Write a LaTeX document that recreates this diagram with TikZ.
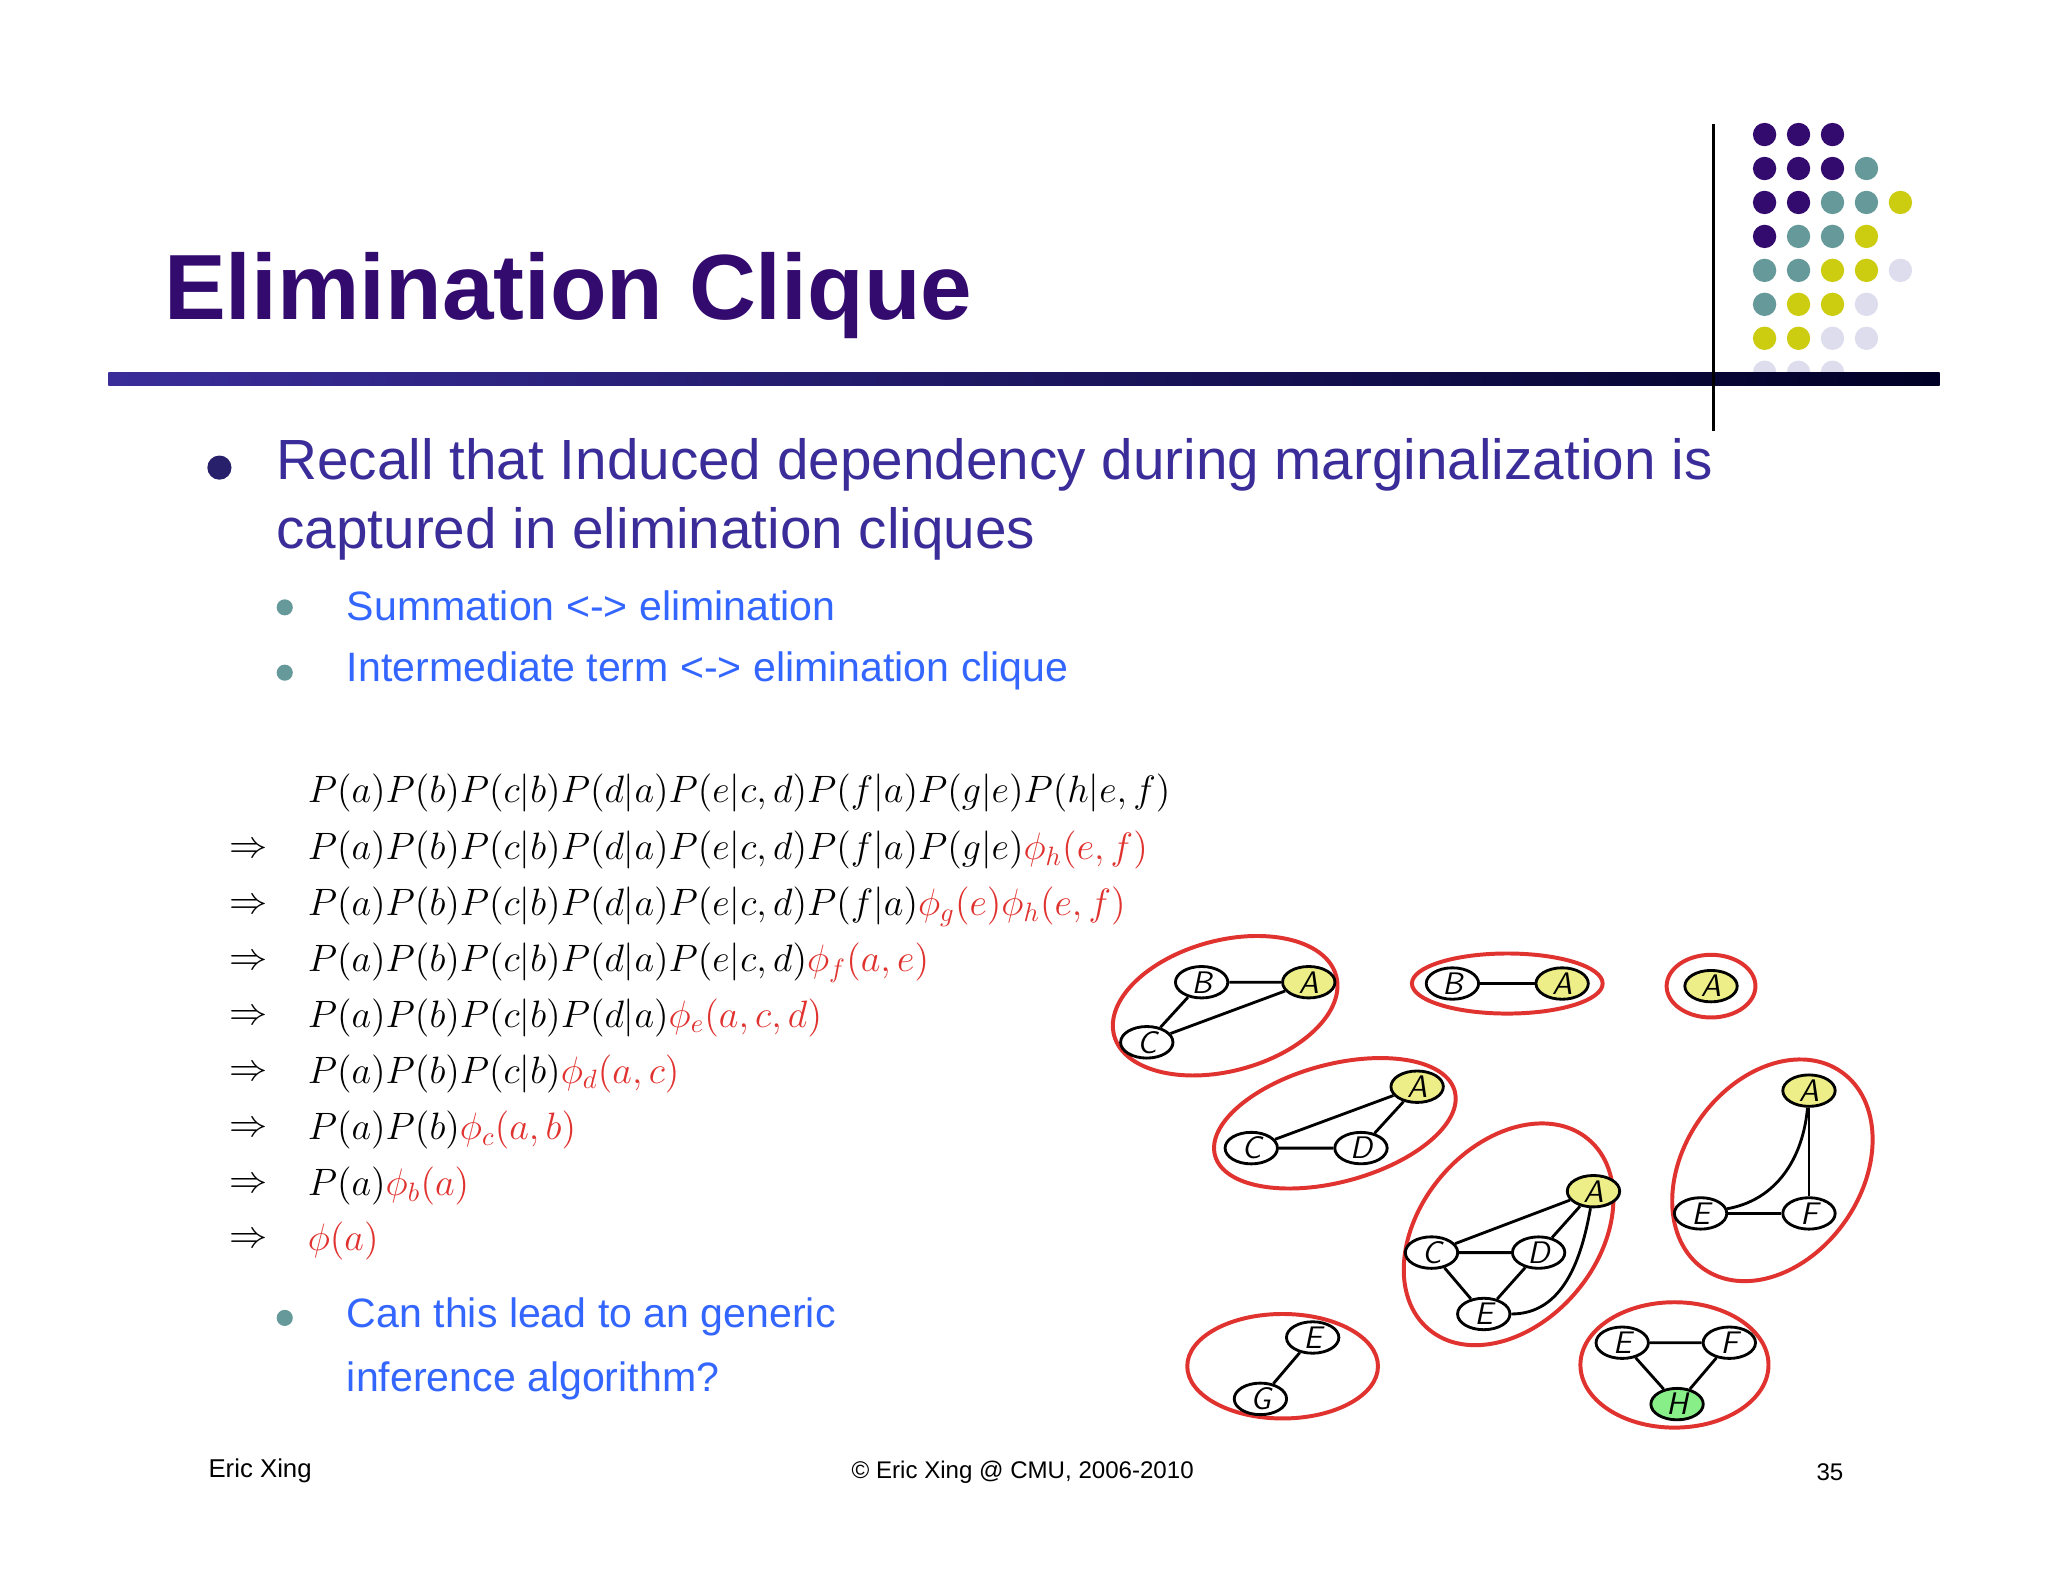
\documentclass[tikz,border=0pt]{standalone}
\usepackage{fontspec}
\setmainfont{Liberation Sans}
\usepackage{amsmath}
\usetikzlibrary{shapes.geometric}
\definecolor{ttl}{HTML}{330A6E}
\definecolor{bul}{HTML}{3A2D9A}
\definecolor{sub}{HTML}{3366FF}
\definecolor{teal}{HTML}{669999}
\definecolor{pur}{HTML}{330A6E}
\definecolor{yel}{HTML}{CCCC11}
\definecolor{lil}{HTML}{DDDDEE}
\definecolor{rd}{HTML}{E0322F}
\definecolor{ya}{HTML}{EEEE88}
\definecolor{gr}{HTML}{88EE88}
\newcommand{\eqs}[1]{\scalebox{0.935}{$#1$}}
\tikzset{
 gn/.style={ellipse,draw,line width=1pt,minimum width=0.65cm,minimum height=0.39cm,inner sep=0pt,fill=white,font=\sffamily\itshape\fontsize{11}{11}\selectfont},
 an/.style={gn,fill=ya},
 ring/.style={draw=rd,line width=1.4pt},
 ed/.style={line width=1pt},
 dotc/.style={circle,inner sep=0pt,minimum size=0.29cm},
 eqt/.style={anchor=west,font=\fontsize{14.4}{16}\selectfont},
 arr/.style={font=\fontsize{14.4}{16}\selectfont},
}
\begin{document}
\begin{tikzpicture}[x=0.0162cm,y=-0.0162cm]
\useasboundingbox[fill=white] (0,0) rectangle (1568,1212);
\foreach \r/\cols in {0/{pur,pur,pur},1/{pur,pur,pur,teal},2/{pur,pur,teal,teal,yel},3/{pur,teal,teal,yel},4/{teal,teal,yel,yel,lil},5/{teal,yel,yel,lil},6/{yel,yel,lil,lil},7/{lil,lil,lil}}{
 \foreach \c [count=\i from 0] in \cols {
  \node[dotc,fill=\c] (d\r\i) at (1351+26*\i,103+26*\r) {};
 }
}
\shade[left color=bul,right color=black!85!blue] (83,285) rectangle (1485,295);
\draw[line width=1.2pt] (1312,95) -- (1312,330);
\node[anchor=west,text=ttl,font=\bfseries\fontsize{32.7}{36}\selectfont] (title) at (118,226) {Elimination Clique};
\node[circle,fill=bul!70!black,minimum size=0.3cm,inner sep=0pt] (b1) at (168,358) {};
\node[anchor=west,text=bul,font=\fontsize{20}{24}\selectfont] (t1) at (204,356) {Recall that Induced dependency during marginalization is};
\node[anchor=west,text=bul,font=\fontsize{20}{24}\selectfont] (t2) at (204,409) {captured in elimination cliques};
\node[circle,fill=teal,minimum size=0.2cm,inner sep=0pt] (b2) at (218,465) {};
\node[anchor=west,text=sub,font=\fontsize{14.5}{18}\selectfont] (t3) at (258,464) {Summation <-> elimination};
\node[circle,fill=teal,minimum size=0.2cm,inner sep=0pt] (b3) at (218,515) {};
\node[anchor=west,text=sub,font=\fontsize{14.5}{18}\selectfont] (t4) at (258,514) {Intermediate term <-> elimination clique};
\node[circle,fill=teal,minimum size=0.2cm,inner sep=0pt] (b4) at (218,1009) {};
\node[anchor=west,text=sub,font=\fontsize{14.5}{18}\selectfont] (t5) at (258,1008) {Can this lead to an generic};
\node[anchor=west,text=sub,font=\fontsize{14.5}{18}\selectfont] (t6) at (258,1057) {inference algorithm?};
\node[eqt] (e1) at (228,607) {\eqs{P(a)P(b)P(c|b)P(d|a)P(e|c,d)P(f|a)P(g|e)P(h|e,f)}};
\node[eqt] (e2) at (228,651) {\eqs{P(a)P(b)P(c|b)P(d|a)P(e|c,d)P(f|a)P(g|e)\color{rd}\phi_h(e,f)}};
\node[eqt] (e3) at (228,694) {\eqs{P(a)P(b)P(c|b)P(d|a)P(e|c,d)P(f|a)\color{rd}\phi_g(e)\phi_h(e,f)}};
\node[eqt] (e4) at (228,737) {\eqs{P(a)P(b)P(c|b)P(d|a)P(e|c,d)\color{rd}\phi_f(a,e)}};
\node[eqt] (e5) at (228,779) {\eqs{P(a)P(b)P(c|b)P(d|a)\color{rd}\phi_e(a,c,d)}};
\node[eqt] (e6) at (228,822) {\eqs{P(a)P(b)P(c|b)\color{rd}\phi_d(a,c)}};
\node[eqt] (e7) at (228,865) {\eqs{P(a)P(b)\color{rd}\phi_c(a,b)}};
\node[eqt] (e8) at (228,908) {\eqs{P(a)\color{rd}\phi_b(a)}};
\node[eqt] (e9) at (228,950) {\eqs{\color{rd}\phi(a)}};
\foreach \y [count=\k from 2] in {651,694,737,779,822,865,908,950} \node[arr] (ar\k) at (190,\y) {\eqs{\Rightarrow}};
\draw[ring,rotate around={15:(938,770)}] (938,770) ellipse (88 and 50);
\draw[ring] (1154,753) ellipse (73 and 23);
\draw[ring] (1310,755) ellipse (34 and 24);
\draw[ring,rotate around={15:(1022,860)}] (1022,860) ellipse (95 and 45);
\draw[ring,rotate around={50:(1155,945)}] (1155,945) ellipse (95 and 68);
\draw[ring,rotate around={55:(1357,896)}] (1357,896) ellipse (92 and 68);
\draw[ring] (982,1046) ellipse (73 and 40);
\draw[ring] (1282,1045) ellipse (72 and 48);
\node[gn] (g1b) at (920,752) {B}; \node[an] (g1a) at (1002,752) {A}; \node[gn] (g1c) at (878,798) {C};
\draw[ed] (g1b)--(g1a) (g1b)--(g1c) (g1c)--(g1a);
\node[gn] (g2b) at (1112,753) {B}; \node[an] (g2a) at (1196,753) {A};
\draw[ed] (g2b)--(g2a);
\node[an] (g3a) at (1310,755) {A};
\node[an] (g4a) at (1085,832) {A}; \node[gn] (g4c) at (958,879) {C}; \node[gn] (g4d) at (1042,879) {D};
\draw[ed] (g4c)--(g4d) (g4c)--(g4a) (g4d)--(g4a);
\node[an] (g5a) at (1220,912) {A}; \node[gn] (g5c) at (1096,959) {C}; \node[gn] (g5d) at (1178,959) {D}; \node[gn] (g5e) at (1136,1006) {E};
\draw[ed] (g5c)--(g5d) (g5c)--(g5a) (g5d)--(g5a) (g5c)--(g5e) (g5d)--(g5e);
\draw[ed] (g5e) to[out=0,in=260] (g5a);
\node[an] (g6a) at (1385,835) {A}; \node[gn] (g6e) at (1302,929) {E}; \node[gn] (g6f) at (1385,929) {F};
\draw[ed] (g6e)--(g6f) (g6a)--(g6f);
\draw[ed] (g6e) to[out=10,in=265] (g6a);
\node[gn] (g7e) at (1005,1024) {E}; \node[gn] (g7g) at (965,1071) {G};
\draw[ed] (g7e)--(g7g);
\node[gn] (g8e) at (1242,1028) {E}; \node[gn] (g8f) at (1324,1028) {F}; \node[gn,fill=gr] (g8h) at (1284,1075) {H};
\draw[ed] (g8e)--(g8f) (g8e)--(g8h) (g8f)--(g8h);
\node[anchor=west,font=\fontsize{9.1}{11}\selectfont] (f1) at (152,1126) {Eric Xing};
\node[font=\fontsize{8.5}{10}\selectfont] (f2) at (783,1127) {© Eric Xing @ CMU, 2006-2010};
\node[font=\fontsize{8.5}{10}\selectfont] (f3) at (1401,1127) {35};
\end{tikzpicture}
\end{document}
